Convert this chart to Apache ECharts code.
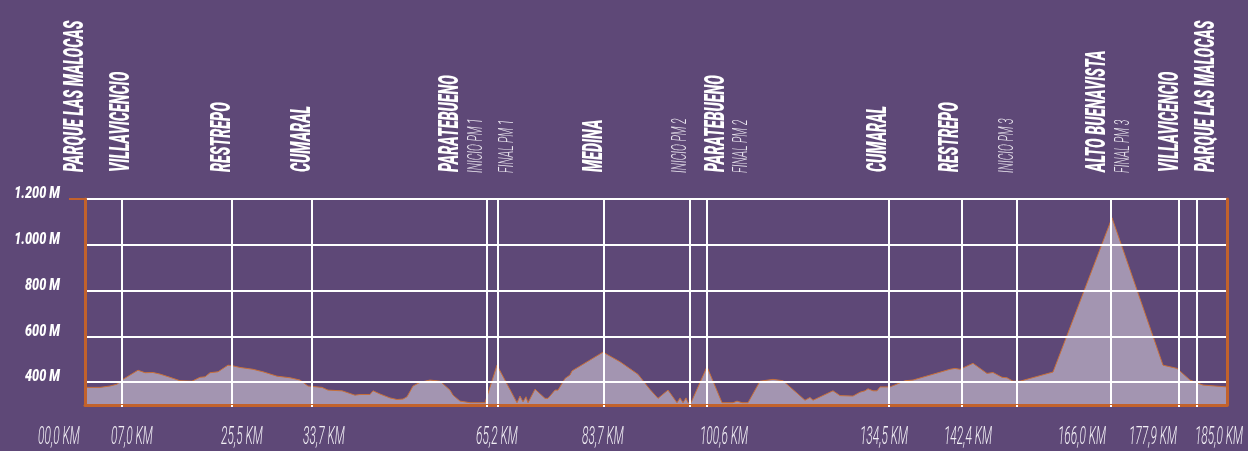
<!DOCTYPE html>
<html>
<head>
<meta charset="utf-8">
<script src="https://cdn.jsdelivr.net/npm/echarts@6/dist/echarts.min.js"></script>
<style>
html,body{margin:0;padding:0;background:#5e4877;}
#c{width:1248px;height:451px;}
</style>
</head>
<body>
<div id="c"></div>
<script>
// Horizontal unit: position along the drawn route profile (the infographic's
// distance scale is not linear in km, so km values are shown as labels only).
const profilePos = [0,15,25,32,38,53,60,68,75,85,95,107,115,120,125,133,143,148,155,168,178,192,205,215,223,237,243,257,270,275,285,288,295,305,312,318,322,328,335,345,355,365,368,375,385,400,402,412,432,435,438,441,443,450,460,463,470,473,480,485,487,518,535,553,565,573,583,592,595,598,601,603,606,622,637,648,652,657,663,675,688,698,720,725,728,748,755,768,775,780,783,788,792,795,805,820,828,865,870,875,888,902,908,917,922,928,935,968,1027,1078,1092,1105,1118,1142];
const profileElev = [377,377,383,391,412,452,441,442,435,421,406,404,421,423,441,445,474,471,464,456,445,426,419,409,383,377,365,362,343,346,346,362,348,331,324,326,336,383,399,409,404,365,343,317,310,310,313,474,310,339,314,336,310,369,329,329,365,365,416,431,449,531,489,434,368,329,365,310,331,310,331,310,310,467,310,310,317,310,310,404,412,406,321,333,321,362,341,339,356,362,371,362,362,379,379,406,409,456,460,456,482,438,442,421,419,404,404,444,1118,474,460,409,387,379];

// Vertical guide lines (route markers)
const markerPos = [37,147,227,402,413,519,605,622,804,877,932,1026,1094,1112];

// Elevation ticks
const elevTicks = [400,600,800,1000,1200];
const elevTickLabels = ['400 M','600 M','800 M','1.000 M','1.200 M'];

// Distance labels
const kmLabels = ['00,0 KM','07,0 KM','25,5 KM','33,7 KM','65,2 KM','83,7 KM','100,6 KM','134,5 KM','142,4 KM','166,0 KM','177,9 KM','185,0 KM'];
const kmLabelPos = [-26,47,157,239,412,518,639,799,883,997,1068,1134];

// Place names (top, rotated)
const placeNames = ['PARQUE LAS MALOCAS','VILLAVICENCIO','RESTREPO','CUMARAL','PARATEBUENO','MEDINA','PARATEBUENO','CUMARAL','RESTREPO','ALTO BUENAVISTA','VILLAVICENCIO','PARQUE LAS MALOCAS'];
const placePos = [-9,37,138,218,366,510,632,794,866,1013,1086,1122];

// Mountain prize notes
const pmNotes = ['INICIO PM 1','FINAL PM 1','INICIO PM 2','FINAL PM 2','INICIO PM 3','FINAL PM 3'];
const pmPos = [392,423,596,657,923,1039];

const ORANGE = '#c2622c';
const chart = echarts.init(document.getElementById('c'), null, {renderer:'canvas'});

const option = {
  backgroundColor: '#5e4877',
  animation: false,
  grid: {left: 85, right: 21, top: 199, bottom: 46},
  xAxis: {
    type: 'value', min: 0, max: 1142, z: 6,
    axisLine: {show: true, onZero: false, lineStyle: {color: ORANGE, width: 3}},
    axisTick: {show: true, customValues: markerPos, length: 2, lineStyle: {color: '#ffffff', width: 2}},
    axisLabel: {show: false},
    splitLine: {show: false}
  },
  yAxis: [
    {
      type: 'value', min: 300, max: 1200, z: 6,
      axisLine: {show: true, lineStyle: {color: ORANGE, width: 3}},
      axisTick: {show: true, customValues: [1200], length: 16, lineStyle: {color: ORANGE, width: 2}},
      axisLabel: {show: false},
      splitLine: {show: false}
    },
    {
      type: 'value', min: 300, max: 1200, position: 'right', z: 6,
      axisLine: {show: true, lineStyle: {color: ORANGE, width: 3}},
      axisTick: {show: false}, axisLabel: {show: false}, splitLine: {show: false}
    }
  ],
  series: [{
    type: 'line',
    data: profilePos.map((p, i) => [p, profileElev[i]]),
    symbol: 'none',
    smooth: false,
    lineStyle: {color: '#c8703a', width: 1},
    areaStyle: {color: '#a395b1', opacity: 1, origin: 'start'},
    markLine: {
      silent: true,
      symbol: ['none', 'none'],
      label: {show: false},
      lineStyle: {color: '#ffffff', width: 2, type: 'solid', opacity: 1},
      emphasis: {disabled: true},
      data: markerPos.map(v => ({xAxis: v})).concat(elevTicks.map(v => ({yAxis: v})))
    }
  }]
};
chart.setOption(option);

const FONT = 'Roboto, "DejaVu Sans", sans-serif';
const g = [];
placeNames.forEach((t, i) => {
  const x = chart.convertToPixel({xAxisIndex: 0}, placePos[i]);
  g.push({type: 'text', x: x, y: 172, rotation: Math.PI / 2, scaleX: 0.53, scaleY: 1, silent: true,
    style: {text: t, fill: '#ffffff', font: 'italic 900 27px ' + FONT, align: 'left', verticalAlign: 'middle', textAlign: 'left', textVerticalAlign: 'middle'}});
});
pmNotes.forEach((t, i) => {
  const x = chart.convertToPixel({xAxisIndex: 0}, pmPos[i]);
  g.push({type: 'text', x: x, y: 173, rotation: Math.PI / 2, scaleX: 0.5, scaleY: 1, silent: true,
    style: {text: t, fill: '#ebe7f0', font: 'italic 300 21px ' + FONT, align: 'left', verticalAlign: 'middle', textAlign: 'left', textVerticalAlign: 'middle'}});
});
kmLabels.forEach((t, i) => {
  const x = chart.convertToPixel({xAxisIndex: 0}, kmLabelPos[i]);
  g.push({type: 'text', x: x, y: 437, scaleX: 0.46, scaleY: 1, silent: true,
    style: {text: t, fill: '#f2eff5', font: 'italic 300 26px ' + FONT, align: 'center', verticalAlign: 'middle', textAlign: 'center', textVerticalAlign: 'middle'}});
});
elevTickLabels.forEach((t, i) => {
  const y = chart.convertToPixel({yAxisIndex: 0}, elevTicks[i]);
  g.push({type: 'text', x: 60, y: y - 5, scaleX: 0.74, scaleY: 1, silent: true,
    style: {text: t, fill: '#ffffff', font: 'italic 900 17px ' + FONT, align: 'right', verticalAlign: 'middle', textAlign: 'right', textVerticalAlign: 'middle'}});
});
chart.setOption({graphic: {elements: g}});
</script>
</body>
</html>
